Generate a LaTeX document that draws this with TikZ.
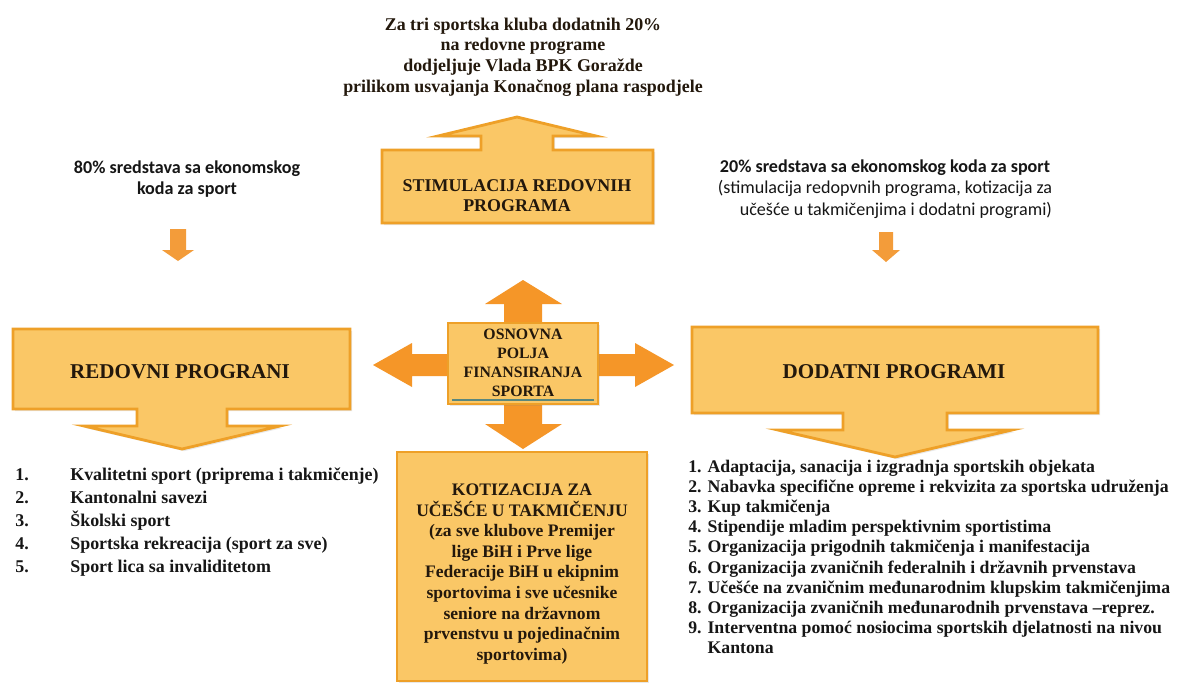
\documentclass[tikz,border=0pt]{standalone}
\usepackage{fontspec}
\usetikzlibrary{shadows}
\setmainfont{Liberation Serif}
\newfontfamily\calibrifont{Carlito}
\definecolor{boxfill}{RGB}{250,199,102}
\definecolor{boxedge}{RGB}{238,160,40}
\definecolor{arroworange}{RGB}{245,150,40}
\definecolor{smallarrow}{RGB}{243,156,58}
\definecolor{txtdark}{RGB}{35,24,12}
\definecolor{txtblack}{RGB}{22,22,22}
\definecolor{tealline}{RGB}{90,135,125}
\tikzset{
  boxshadow/.style={drop shadow={opacity=0.18, shadow xshift=1.2pt, shadow yshift=-1.2pt}},
  callout/.style={fill=boxfill, draw=boxedge, line width=1.6pt, line join=miter, boxshadow},
  crossarrow/.style={fill=arroworange, draw=none},
  minarrow/.style={fill=smallarrow, draw=none},
  centerbox/.style={fill=boxfill, draw=boxedge, line width=1.2pt, boxshadow},
  serifbold/.style={inner sep=0pt, align=center, text=txtdark, font=\bfseries},
  listtext/.style={inner sep=0pt, align=left, text=txtblack, font=\bfseries},
  sanstext/.style={inner sep=0pt, align=center, text=txtblack}
}
\begin{document}
\begin{tikzpicture}[x=0.02cm, y=-0.02cm]
\useasboundingbox (0,0) rectangle (1180,694);
\fill[white] (0,0) rectangle (1180,694);

% top note
\node[serifbold, font=\bfseries\fontsize{10.2}{11.7}\selectfont] (topnote) at (523,57)
  {Za tri sportska kluba dodatnih 20\%\\na redovne programe\\dodjeljuje Vlada BPK Goražde\\prilikom usvajanja Konačnog plana raspodjele};

% STIMULACIJA callout (up arrow)
\draw[callout] (382,223) -- (382,150) -- (481,150) -- (481,136) -- (438,136) -- (517,117)
  -- (596,136) -- (553,136) -- (553,150) -- (653,150) -- (653,223) -- cycle;
\node[serifbold, font=\bfseries\fontsize{10.2}{11.4}\selectfont] (stim) at (517,196)
  {STIMULACIJA REDOVNIH\\PROGRAMA};

% side notes
\node[sanstext, font=\calibrifont\bfseries\fontsize{10.3}{12}\selectfont] (note80) at (187,179)
  {80\% sredstava sa ekonomskog\\koda za sport};
\node[sanstext, font=\calibrifont\fontsize{10.3}{12.2}\selectfont] (note20) at (885,189)
  {\textbf{20\% sredstava sa ekonomskog koda za sport}\\(stimulacija redopvnih programa, kotizacija za\\\hspace*{1.2em}učešće u takmičenjima i dodatni programi)};

% small arrows
\coordinate (la) at (178,229);
\coordinate (ra) at (886,232);
\fill[minarrow] (la) ++(-8,0) -- ++(0,21) -- ++(-8,0) -- (178,261) -- (194,250) -- (186,250) -- (186,229) -- cycle;
\fill[minarrow] (ra) ++(-7,0) -- ++(0,18) -- ++(-7,0) -- (886,262) -- (900,250) -- (893,250) -- (893,232) -- cycle;

% REDOVNI PROGRANI callout (down arrow)
\draw[callout] (13,329) -- (350,329) -- (350,409) -- (227,409) -- (227,426) -- (280,426)
  -- (182,449) -- (84,426) -- (137,426) -- (137,409) -- (13,409) -- cycle;
\node[serifbold, font=\bfseries\fontsize{12}{14}\selectfont] (redovni) at (180,372) {REDOVNI PROGRANI};

% DODATNI PROGRAMI callout (down arrow)
\draw[callout] (692,327) -- (1098,327) -- (1098,413) -- (947,413) -- (947,430) -- (1012,430)
  -- (895,457) -- (778,430) -- (843,430) -- (843,413) -- (692,413) -- cycle;
\node[serifbold, font=\bfseries\fontsize{12}{14}\selectfont] (dodatni) at (894,372) {DODATNI PROGRAMI};

% central cross arrows
\fill[crossarrow] (504,325) -- (504,304) -- (485,304) -- (523,280) -- (562,304) -- (542,304) -- (542,325) -- cycle;
\fill[crossarrow] (504,401) -- (504,424) -- (485,424) -- (523,449) -- (562,424) -- (542,424) -- (542,401) -- cycle;
\fill[crossarrow] (450,354) -- (412,354) -- (412,343) -- (373,365) -- (412,387) -- (412,376) -- (450,376) -- cycle;
\fill[crossarrow] (596,354) -- (635,354) -- (635,343) -- (674,365) -- (635,387) -- (635,376) -- (596,376) -- cycle;
\draw[centerbox] (448,323) rectangle (598,404);
\draw[tealline, line width=0.6pt] (452,400) -- (594,400);
\node[serifbold, font=\bfseries\fontsize{9}{10.8}\selectfont] (osnovna) at (523,363)
  {OSNOVNA\\POLJA\\FINANSIRANJA\\SPORTA};

% KOTIZACIJA box
\draw[centerbox, line width=1.6pt] (397,452) rectangle (647,681);
\node[serifbold, font=\bfseries\fontsize{10}{11.7}\selectfont] (kotiz) at (522,574)
  {KOTIZACIJA ZA\\UČEŠĆE U TAKMIČENJU\\(za sve klubove Premijer\\lige BiH i Prve lige\\Federacije BiH u ekipnim\\sportovima i sve učesnike\\seniore na državnom\\prvenstvu u pojedinačnim\\sportovima)};

% left list
\node[listtext, anchor=west, font=\bfseries\fontsize{10.2}{13.1}\selectfont] (leftlist) at (15,522)
  {\makebox[31.3pt][l]{1.}Kvalitetni sport (priprema i takmičenje)\\
   \makebox[31.3pt][l]{2.}Kantonalni savezi\\
   \makebox[31.3pt][l]{3.}Školski sport\\
   \makebox[31.3pt][l]{4.}Sportska rekreacija (sport za sve)\\
   \makebox[31.3pt][l]{5.}Sport lica sa invaliditetom};

% right list
\node[listtext, anchor=west, font=\bfseries\fontsize{10.1}{11.5}\selectfont] (rightlist) at (688,557)
  {1. Adaptacija, sanacija i izgradnja sportskih objekata\\
   2. Nabavka specifične opreme i rekvizita za sportska udruženja\\
   3. Kup takmičenja\\
   4. Stipendije mladim perspektivnim sportistima\\
   5. Organizacija prigodnih takmičenja i manifestacija\\
   6. Organizacija zvaničnih federalnih i državnih prvenstava\\
   7. Učešće na zvaničnim međunarodnim klupskim takmičenjima\\
   8. Organizacija zvaničnih međunarodnih prvenstava --reprez.\\
   9. Interventna pomoć nosiocima sportskih djelatnosti na nivou\\
   \phantom{9. }Kantona};
\end{tikzpicture}
\end{document}
